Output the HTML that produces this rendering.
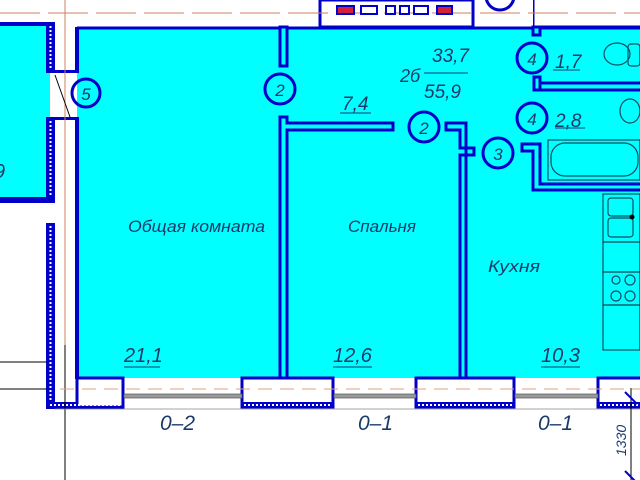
<!DOCTYPE html>
<html><head><meta charset="utf-8"><style>
html,body{margin:0;padding:0;background:#fff;}
svg{display:block}
text{font-family:"Liberation Sans","DejaVu Sans",sans-serif;font-style:italic;fill:#1a3a6a}
</style></head><body>
<svg width="640" height="480" viewBox="0 0 640 480" xmlns="http://www.w3.org/2000/svg">
<rect width="640" height="480" fill="#fff"/>
<rect x="0" y="25" width="50" height="175" fill="#00ffff"/>
<rect x="77" y="28" width="563" height="350" fill="#00ffff"/>
<rect x="320" y="0" width="153" height="27" fill="#fff" stroke="#0000c8" stroke-width="3"/>
<rect x="533" y="-3" width="110" height="30" fill="#fff" stroke="#0000c8" stroke-width="3"/>
<rect x="475" y="0" width="58" height="27" fill="#fff"/>
<circle cx="500" cy="-4" r="14" fill="#fff" stroke="#0000c8" stroke-width="3"/>
<line x1="0" y1="13" x2="640" y2="13" stroke="#d08060" stroke-width="1" stroke-dasharray="40,8"/>
<g stroke="#0000c8" stroke-width="2">
<rect x="337" y="6" width="17" height="8" fill="#d0203a"/>
<rect x="361" y="6" width="16" height="8" fill="#fff"/>
<rect x="386" y="6" width="9" height="8" fill="#fff"/>
<rect x="400" y="6" width="9" height="8" fill="#fff"/>
<rect x="414" y="6" width="14" height="8" fill="#fff"/>
<rect x="437" y="6" width="15" height="8" fill="#d0203a"/>
</g>
<line x1="77" y1="28" x2="640" y2="28" stroke="#0000c8" stroke-width="3"/>
<g fill="#0000c8">
<rect x="75" y="27" width="4" height="46"/>
<rect x="53" y="70" width="26" height="3"/>
<rect x="53" y="117" width="26" height="3"/>
<rect x="75" y="117" width="4" height="262"/>
<rect x="46" y="23" width="9" height="50"/>
<rect x="46" y="117" width="9" height="86"/>
<rect x="0" y="197" width="55" height="6"/>
<rect x="0" y="22" width="55" height="4"/>
<rect x="46" y="223" width="9" height="186"/>
<rect x="46" y="402" width="78" height="7"/>
</g>
<g stroke="#fff" stroke-width="2" stroke-dasharray="2,2">
<line x1="50.5" y1="26" x2="50.5" y2="70"/>
<line x1="50.5" y1="121" x2="50.5" y2="196"/>
<line x1="50.5" y1="226" x2="50.5" y2="402"/>
</g>
<text x="-6" y="178" font-size="20">9</text>
<line x1="65" y1="0" x2="65" y2="345" stroke="#d08060" stroke-width="1"/>
<line x1="65" y1="345" x2="65" y2="480" stroke="#000" stroke-width="1"/>
<line x1="0" y1="362" x2="47" y2="362" stroke="#000" stroke-width="1"/>
<line x1="0" y1="389" x2="47" y2="389" stroke="#000" stroke-width="1"/>
<line x1="55" y1="75" x2="70" y2="117" stroke="#000" stroke-width="1"/>
<g fill="#fff" stroke="#0000c8" stroke-width="3">
<rect x="77" y="378" width="46" height="29"/>
<rect x="242" y="378" width="91" height="29"/>
<rect x="416" y="378" width="98" height="29"/>
<rect x="598" y="378" width="45" height="29"/>
</g>
<line x1="60" y1="389" x2="640" y2="389" stroke="#e0a080" stroke-width="1" stroke-dasharray="14,8"/>
<g fill="#0000c8"><rect x="242" y="402" width="91" height="6"/><rect x="416" y="402" width="98" height="6"/><rect x="598" y="402" width="45" height="6"/></g>
<g stroke="#fff" stroke-width="2" stroke-dasharray="2,2">
<line x1="50" y1="405" x2="122" y2="405"/><line x1="244" y1="405" x2="332" y2="405"/><line x1="418" y1="405" x2="513" y2="405"/><line x1="600" y1="405" x2="640" y2="405"/>
</g>
<g fill="#999" stroke="#555" stroke-width="0.7">
<rect x="124" y="394" width="118" height="4"/><rect x="334" y="394" width="82" height="4"/><rect x="515" y="394" width="83" height="4"/>
</g>
<line x1="55" y1="409" x2="640" y2="409" stroke="#888" stroke-width="0.7"/>
<g fill="#00ffff" stroke="#0000c8" stroke-width="3">
<rect x="280" y="27" width="7" height="39"/>
<path d="M280 117 V378 H287 V130 H393 V123 H287 V117 Z"/>
<path d="M446 123 H466 V378 H460 V155 H474 V148 H460 V130 H446 Z"/>
<path d="M533 27 V35 H540 V27 Z"/>
<rect x="534" y="77" width="6" height="13"/>
<rect x="540" y="83" width="102" height="7"/>
<path d="M522 144 H540 V184 H642 V190 H533 V151 H522 Z"/>
</g>
<g fill="none" stroke="#0000c8" stroke-width="3">
<circle cx="86" cy="93" r="14"/><circle cx="280" cy="89" r="15"/><circle cx="424" cy="127" r="15"/>
<circle cx="498" cy="153" r="15"/><circle cx="532" cy="58" r="15"/><circle cx="532" cy="118" r="15"/>
</g>
<g font-size="17" text-anchor="middle">
<text x="86" y="100">5</text><text x="280" y="96">2</text><text x="424" y="134">2</text>
<text x="498" y="160">3</text><text x="532" y="65">4</text><text x="532" y="125">4</text>
</g>
<g fill="none" stroke="#0a5060" stroke-width="1.2">
<ellipse cx="617" cy="54" rx="13" ry="11"/><rect x="628" y="44" width="12" height="22" rx="3"/>
<ellipse cx="630" cy="111" rx="10" ry="12"/>
<rect x="551" y="143" width="87" height="33" rx="14"/><rect x="548" y="140" width="92" height="40"/>
<rect x="603" y="194" width="37" height="48"/><rect x="608" y="198" width="25" height="18" rx="3"/><rect x="608" y="218" width="25" height="19" rx="3"/>
<rect x="603" y="242" width="37" height="30"/><rect x="603" y="272" width="37" height="33"/><rect x="603" y="305" width="37" height="45"/>
<circle cx="616" cy="280" r="4"/><circle cx="630" cy="280" r="5"/><circle cx="616" cy="296" r="5"/><circle cx="630" cy="296" r="5"/>
</g>
<circle cx="632" cy="217" r="2.5" fill="#000"/>
<g font-size="17">
<text x="128" y="232" textLength="137" lengthAdjust="spacingAndGlyphs">Общая комната</text>
<text x="348" y="232" textLength="68" lengthAdjust="spacingAndGlyphs">Спальня</text>
<text x="488" y="272" textLength="52" lengthAdjust="spacingAndGlyphs">Кухня</text>
<text x="124" y="362" font-size="20">21,1</text>
<text x="333" y="362" font-size="20">12,6</text>
<text x="541" y="362" font-size="20">10,3</text>
<text x="342" y="110" font-size="19">7,4</text>
<text x="555" y="68" font-size="19">1,7</text>
<text x="555" y="127" font-size="19">2,8</text>
<text x="400" y="82" font-size="18">2б</text>
<text x="432" y="62" font-size="19">33,7</text>
<text x="424" y="98" font-size="19">55,9</text>
<text x="160" y="430" font-size="21">0–2</text>
<text x="358" y="430" font-size="21">0–1</text>
<text x="538" y="430" font-size="21">0–1</text>
</g>
<g stroke="#1a3a6a" stroke-width="1">
<line x1="124" y1="367" x2="160" y2="367"/><line x1="333" y1="367" x2="372" y2="367"/><line x1="541" y1="367" x2="580" y2="367"/>
<line x1="340" y1="113" x2="371" y2="113"/><line x1="553" y1="70" x2="580" y2="70"/><line x1="555" y1="128" x2="585" y2="128"/>
<line x1="424" y1="73" x2="468" y2="73"/>
</g>
<line x1="631" y1="388" x2="631" y2="480" stroke="#000" stroke-width="1"/>
<line x1="625" y1="392" x2="637" y2="404" stroke="#0000c8" stroke-width="2"/>
<line x1="625" y1="471" x2="637" y2="483" stroke="#0000c8" stroke-width="2"/>
<text x="0" y="0" font-size="14" transform="translate(626,456) rotate(-90)">1330</text>
</svg>
</body></html>
